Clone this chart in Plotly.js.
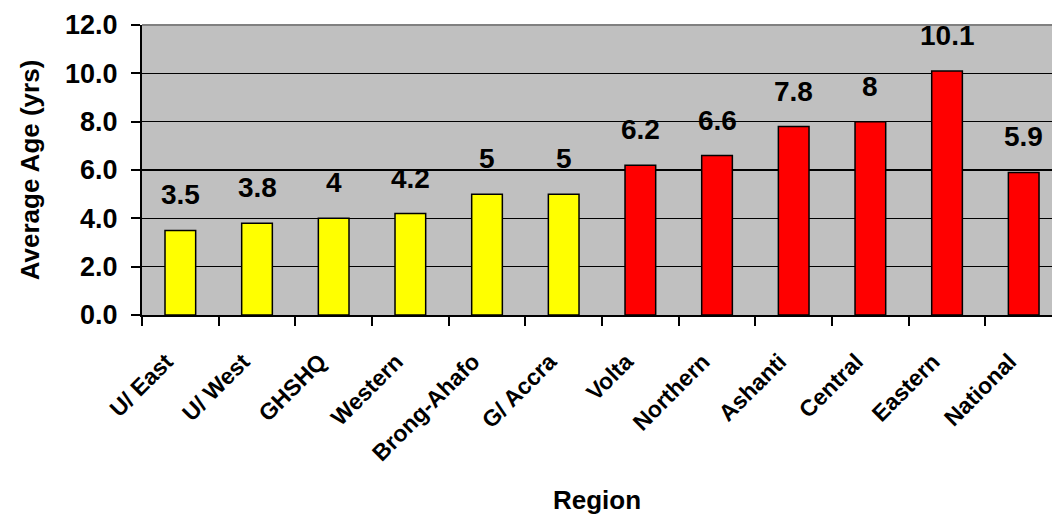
<!DOCTYPE html>
<html>
<head>
<meta charset="utf-8">
<script src="https://cdn.plot.ly/plotly-3.0.1.min.js"></script>
<style>
html,body{margin:0;padding:0;background:#fff;}
#chart{width:1052px;height:515px;}
</style>
</head>
<body>
<div id="chart"></div>
<script>
const regions = ["U/ East", "U/ West", "GHSHQ", "Western", "Brong-Ahafo", "G/ Accra", "Volta", "Northern", "Ashanti", "Central", "Eastern", "National"];
const avgAge = [3.5, 3.8, 4, 4.2, 5, 5, 6.2, 6.6, 7.8, 8, 10.1, 5.9];
const valueLabels = ["3.5", "3.8", "4", "4.2", "5", "5", "6.2", "6.6", "7.8", "8", "10.1", "5.9"];
const barColors = ["#FFFF00", "#FFFF00", "#FFFF00", "#FFFF00", "#FFFF00", "#FFFF00", "#FF0000", "#FF0000", "#FF0000", "#FF0000", "#FF0000", "#FF0000"];
const yTicks = [0, 2, 4, 6, 8, 10, 12];

const FONT = "Liberation Sans, Arial, sans-serif";

const trace = {
  type: "bar",
  x: regions,
  y: avgAge,
  marker: {color: barColors, line: {color: "#000000", width: 1.5}},
  hoverinfo: "skip"
};

const annotations = regions.map((r, i) => ({
  x: r, y: avgAge[i], xref: "x", yref: "y",
  text: valueLabels[i], showarrow: false,
  yanchor: "bottom", yshift: 18,
  font: {family: FONT, size: 28, color: "#000", weight: "bold"}
}));

const layout = {
  width: 1052, height: 515,
  margin: {l: 142, r: 0, t: 25, b: 200},
  paper_bgcolor: "#ffffff",
  plot_bgcolor: "#C0C0C0",
  bargap: 0.6,
  showlegend: false,
  xaxis: {
    type: "category",
    range: [-0.5, 11.369],
    tickson: "boundaries",
    ticks: "outside", ticklen: 9, tickwidth: 2, tickcolor: "#000",
    showline: true, linecolor: "#000", linewidth: 2,
    showgrid: false,
    tickangle: -45,
    ticklabelstandoff: 22,
    ticklabelshift: -14,
    tickfont: {family: FONT, size: 23, color: "#000", weight: "bold"},
    title: {text: "Region", standoff: 28, font: {family: FONT, size: 26, color: "#000", weight: "bold"}},
    automargin: false,
    fixedrange: true
  },
  yaxis: {
    range: [0, 12],
    tickvals: yTicks,
    tickformat: ".1f",
    ticks: "outside", ticklen: 9, tickwidth: 2, tickcolor: "#000",
    showline: true, linecolor: "#000", linewidth: 2,
    showgrid: true, gridcolor: "#000", gridwidth: 1.5,
    zeroline: false,
    ticklabelstandoff: 8,
    tickfont: {family: FONT, size: 27, color: "#000", weight: "bold"},
    title: {text: "Average Age (yrs)", standoff: 18, font: {family: FONT, size: 26, color: "#000", weight: "bold"}},
    automargin: false,
    fixedrange: true
  },
  shapes: [{
    type: "line", xref: "paper", yref: "paper", x0: 0, x1: 1, y0: 1, y1: 1,
    line: {color: "#808080", width: 2}
  }],
  annotations: annotations
};

Plotly.newPlot("chart", [trace], layout, {displayModeBar: false, staticPlot: true});
</script>
</body>
</html>
